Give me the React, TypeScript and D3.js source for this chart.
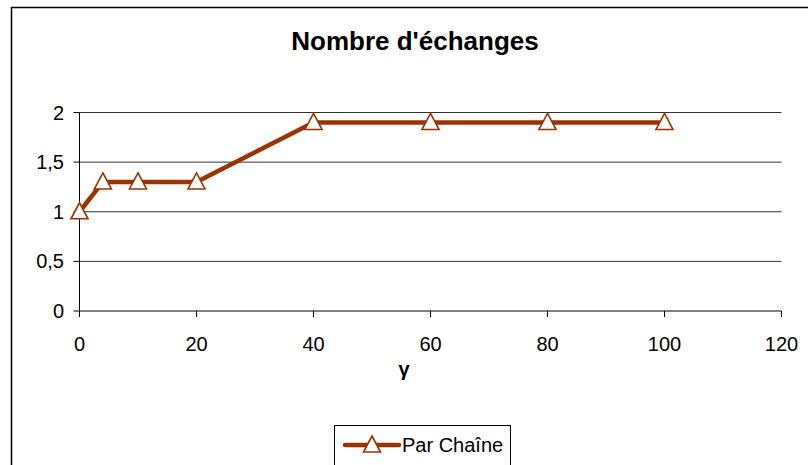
import * as d3 from "d3";

const gammaValues = [0, 4, 10, 20, 40, 60, 80, 100];
const parChaine = [1, 1.3, 1.3, 1.3, 1.9, 1.9, 1.9, 1.9];
const xTicks = [0, 20, 40, 60, 80, 100, 120];
const yTicks = [0, 0.5, 1, 1.5, 2];
const yTickLabels = ["0", "0,5", "1", "1,5", "2"];
const title = "Nombre d'échanges";
const xLabel = "γ";
const seriesName = "Par Chaîne";

const W = 808;
const H = 465;
const brown = "#993300";
const font = "'Liberation Sans', Arial, sans-serif";

const x = d3.scaleLinear().domain([0, 120]).range([79.5, 781.5]);
const y = d3.scaleLinear().domain([0, 2]).range([311, 112.5]);

// hollow triangle marker centred on the point
const tri = (cx: number, cy: number) =>
  `M${cx},${cy - 9} L${cx + 8.5},${cy + 7} L${cx - 8.5},${cy + 7} Z`;

export default function App() {
  const pts = gammaValues.map((g, i) => [x(g), y(parChaine[i])] as [number, number]);
  const line = d3.line()(pts) ?? "";

  return (
    <svg
      width={W}
      height={H}
      style={{ position: "absolute", left: 0, top: 0, background: "#fff" }}
      fontFamily={font}
    >
      <rect x={11.5} y={7.5} width={900} height={600} fill="none" stroke="#000" strokeWidth={1.5} />

      <text x={415} y={50} textAnchor="middle" fontSize={26} fontWeight="bold">
        {title}
      </text>

      {/* gridlines */}
      {yTicks.slice(1).map((t) => (
        <line key={t} x1={x(0)} x2={x(120)} y1={y(t)} y2={y(t)} stroke="#333" strokeWidth={1} />
      ))}

      {/* y axis */}
      <line x1={x(0)} x2={x(0)} y1={y(2)} y2={y(0)} stroke="#000" />
      {yTicks.map((t, i) => (
        <g key={t}>
          <line x1={x(0) - 6} x2={x(0)} y1={y(t)} y2={y(t)} stroke="#000" />
          <text x={64} y={y(t) + 7} textAnchor="end" fontSize={20}>
            {yTickLabels[i]}
          </text>
        </g>
      ))}

      {/* x axis */}
      <line x1={x(0)} x2={x(120)} y1={y(0)} y2={y(0)} stroke="#808080" strokeWidth={2} />
      {xTicks.map((t) => (
        <g key={t}>
          <line x1={x(t)} x2={x(t)} y1={y(0)} y2={y(0) + 6} stroke="#000" />
          <text x={x(t)} y={351} textAnchor="middle" fontSize={20}>
            {t}
          </text>
        </g>
      ))}
      <text x={404} y={376} textAnchor="middle" fontSize={20} fontWeight="bold">
        {xLabel}
      </text>

      {/* series */}
      <path d={line} fill="none" stroke={brown} strokeWidth={4.5} strokeLinejoin="round" />
      {pts.map(([px, py], i) => (
        <path key={i} d={tri(px, py)} fill="#fff" stroke={brown} strokeWidth={1.6} />
      ))}

      {/* legend */}
      <rect x={334.5} y={425.5} width={176} height={60} fill="#fff" stroke="#000" strokeWidth={1} />
      <line x1={345} x2={399} y1={445} y2={445} stroke={brown} strokeWidth={4.5} strokeLinecap="round" />
      <path d={tri(372, 445)} fill="#fff" stroke={brown} strokeWidth={1.6} />
      <text x={402} y={452} fontSize={20}>
        {seriesName}
      </text>
    </svg>
  );
}
